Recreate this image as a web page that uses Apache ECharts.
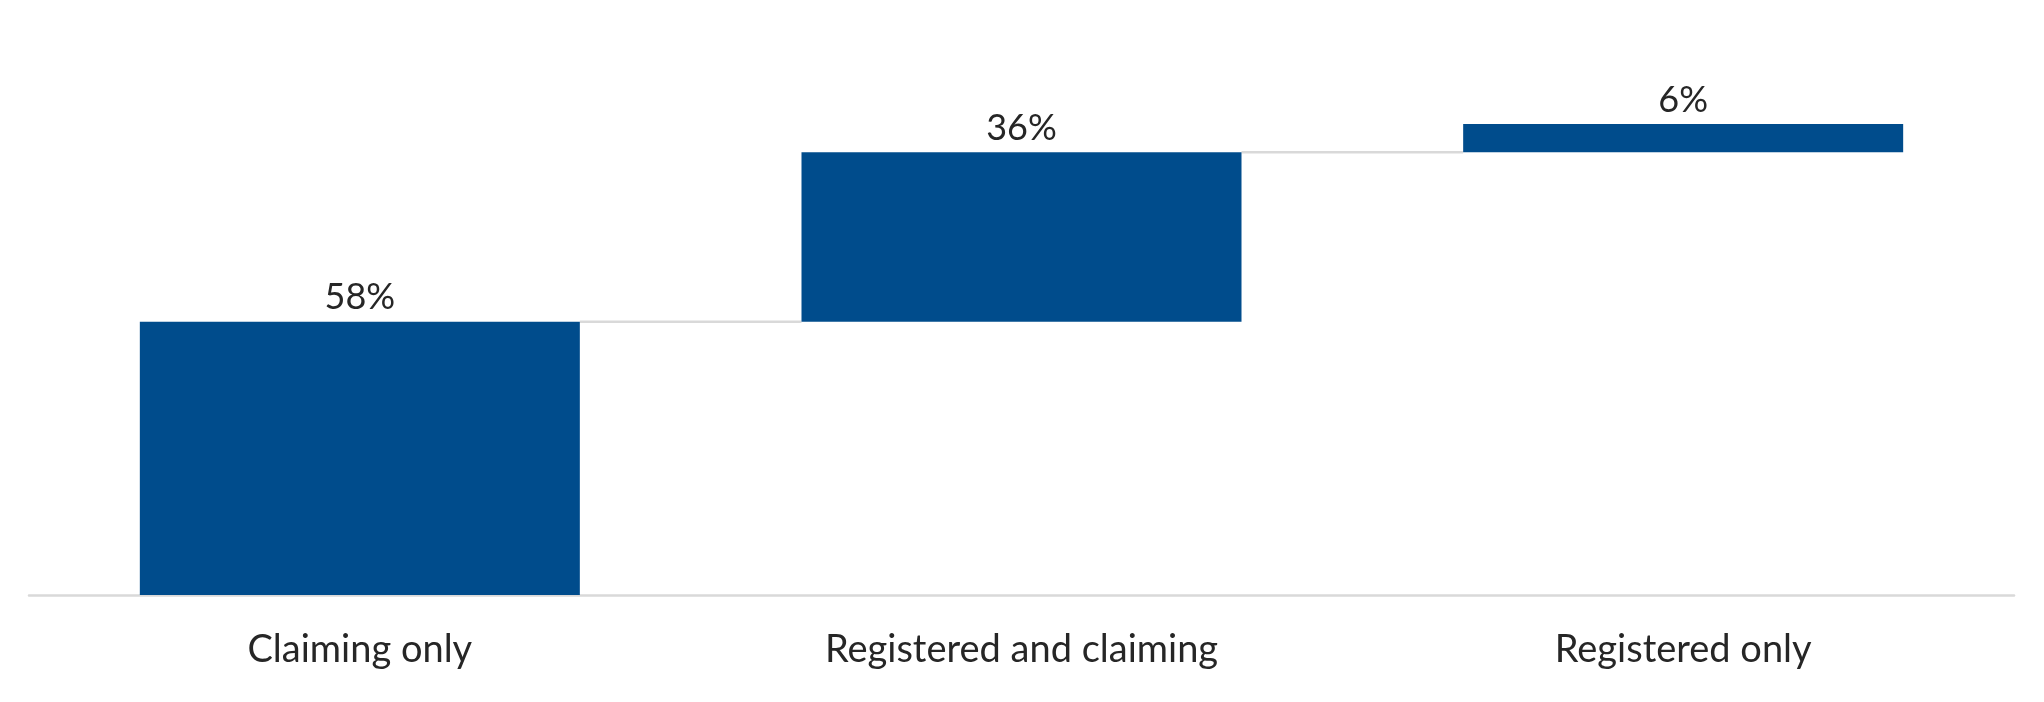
<!DOCTYPE html>
<html>
<head>
<meta charset="utf-8">
<script src="https://cdn.jsdelivr.net/npm/echarts@6/dist/echarts.min.js"></script>
<style>html,body{margin:0;padding:0;background:#fff}#c{width:2044px;height:702px}</style>
</head>
<body>
<div id="c"></div>
<script>
const categories = ['Claiming only', 'Registered and claiming', 'Registered only'];
const values = [58, 36, 6];
const labels = ['58%', '36%', '6%'];

// invisible base so each bar starts where the previous one ended
const bases = [];
let run = 0;
for (const v of values) { bases.push(run); run += v; }
// connector levels: top of each bar except the last
const connectors = [];
for (let i = 0; i < values.length - 1; i++) connectors.push([i, bases[i] + values[i]]);

const BAR_RATIO = 0.665;
const FONT = 'Lato, "Open Sans", sans-serif';

const chart = echarts.init(document.getElementById('c'), null, {renderer: 'canvas'});
chart.setOption({
  animation: false,
  backgroundColor: '#ffffff',
  grid: {left: 29, right: 30, top: 124, bottom: 107},
  xAxis: {
    type: 'category',
    data: categories,
    axisLine: {lineStyle: {color: '#d9d9d9', width: 2.5}},
    axisTick: {show: false},
    axisLabel: {color: '#262626', fontSize: 38, fontFamily: FONT, margin: 36}
  },
  yAxis: {type: 'value', min: 0, max: 100, show: false, splitLine: {show: false}},
  series: [
    {
      type: 'bar', stack: 'w', data: bases, barCategoryGap: '33.5%',
      itemStyle: {color: 'transparent'}, silent: true
    },
    {
      type: 'bar', stack: 'w', data: values, barCategoryGap: '33.5%',
      itemStyle: {color: '#004C8C'},
      label: {
        show: true, position: 'top', distance: 6,
        color: '#262626', fontSize: 36, fontFamily: FONT,
        formatter: p => labels[p.dataIndex]
      }
    },
    {
      type: 'custom',
      data: connectors,
      z: 1,
      renderItem: function (params, api) {
        const i = api.value(0);
        const y = api.value(1);
        const p1 = api.coord([i, y]);
        const p2 = api.coord([i + 1, y]);
        const band = api.size([1, 0])[0];
        const half = band * BAR_RATIO / 2;
        return {
          type: 'line',
          shape: {x1: p1[0] + half, y1: p1[1], x2: p2[0] - half, y2: p2[1]},
          style: {stroke: '#d9d9d9', lineWidth: 2.5}
        };
      }
    }
  ]
});
</script>
</body>
</html>
